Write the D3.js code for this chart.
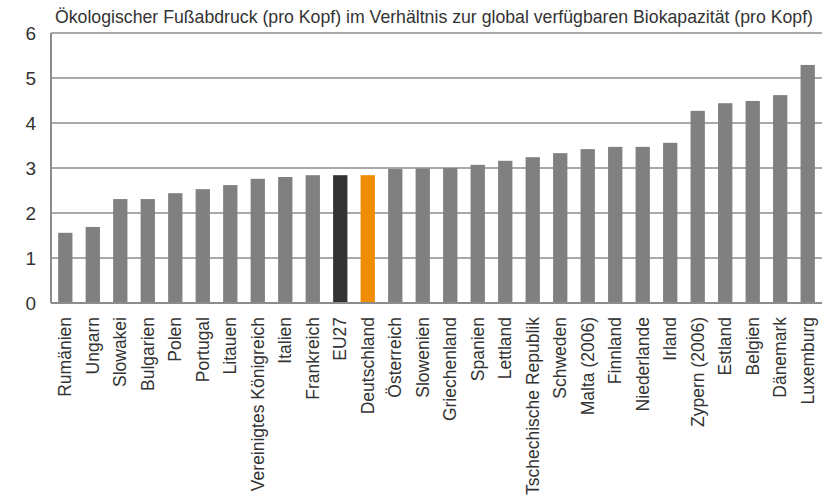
<!DOCTYPE html>
<html>
<head>
<meta charset="utf-8">
<script src="https://cdn.jsdelivr.net/npm/d3@7"></script>
<style>
  body { margin: 0; background: #fff; }
  svg text { font-family: "Liberation Sans", Arial, sans-serif; }
</style>
</head>
<body>
<svg id="chart" width="827" height="499"></svg>
<script>
var countries = ["Rumänien","Ungarn","Slowakei","Bulgarien","Polen","Portugal","Litauen",
  "Vereinigtes Königreich","Italien","Frankreich","EU27","Deutschland","Österreich","Slowenien",
  "Griechenland","Spanien","Lettland","Tschechische Republik","Schweden","Malta (2006)","Finnland",
  "Niederlande","Irland","Zypern (2006)","Estland","Belgien","Dänemark","Luxemburg"];
var values = [1.56,1.69,2.31,2.31,2.44,2.53,2.62,2.76,2.80,2.84,2.84,2.84,2.98,2.99,
  3.00,3.07,3.16,3.24,3.33,3.42,3.47,3.47,3.56,4.27,4.44,4.49,4.62,5.29];
var yTicks = [0,1,2,3,4,5,6];
var title = "Ökologischer Fußabdruck (pro Kopf) im Verhältnis zur global verfügbaren Biokapazität (pro Kopf)";

var margin = {top: 33, right: 5, bottom: 196, left: 51};
var width = 827 - margin.left - margin.right;
var height = 499 - margin.top - margin.bottom;

var svg = d3.select("#chart");
var g = svg.append("g").attr("transform", "translate(" + margin.left + "," + margin.top + ")");

var x = d3.scaleBand().domain(countries).range([0, width]).paddingInner(0.48).paddingOuter(0.26);
var y = d3.scaleLinear().domain([0, 6]).range([height, 0]);

// grid lines
g.selectAll(".grid").data(yTicks).enter().append("line")
  .attr("x1", 0).attr("x2", width)
  .attr("y1", function(d){ return y(d); })
  .attr("y2", function(d){ return y(d); })
  .attr("stroke", "#8c8c8c").attr("stroke-width", 1.5);

// bars
g.selectAll(".bar").data(countries).enter().append("rect")
  .attr("x", function(d){ return x(d); })
  .attr("y", function(d, i){ return y(values[i]); })
  .attr("width", x.bandwidth())
  .attr("height", function(d, i){ return height - y(values[i]); })
  .attr("fill", function(d){
    if (d == "EU27") return "#333333";
    if (d == "Deutschland") return "#f08c00";
    return "#808080";
  });

// axes lines
g.append("line").attr("x1", 0).attr("x2", 0).attr("y1", 0).attr("y2", height)
  .attr("stroke", "#8c8c8c").attr("stroke-width", 2);
g.append("line").attr("x1", 0).attr("x2", width).attr("y1", height).attr("y2", height)
  .attr("stroke", "#8c8c8c").attr("stroke-width", 2);

// y labels
var yAxis = d3.axisLeft(y).tickValues(yTicks).tickSize(0).tickPadding(15).tickFormat(d3.format("d"));
var ya = g.append("g").call(yAxis);
ya.select(".domain").remove();
ya.selectAll("text").attr("font-size", 19).attr("fill", "#333")
  .style("font-family", "'Liberation Sans', Arial, sans-serif");

// x labels
var xAxis = d3.axisBottom(x).tickSize(0).tickPadding(0);
var xa = g.append("g").attr("transform", "translate(0," + height + ")").call(xAxis);
xa.select(".domain").remove();
xa.selectAll("text")
  .attr("transform", "rotate(-90)")
  .attr("x", -14).attr("y", 0).attr("dy", "0.35em")
  .style("text-anchor", "end")
  .attr("font-size", 17.5).attr("fill", "#333")
  .style("font-family", "'Liberation Sans', Arial, sans-serif");

// title
svg.append("text").attr("x", 55).attr("y", 23)
  .attr("font-size", 17.7).attr("fill", "#333")
  .text(title);
</script>
</body>
</html>
